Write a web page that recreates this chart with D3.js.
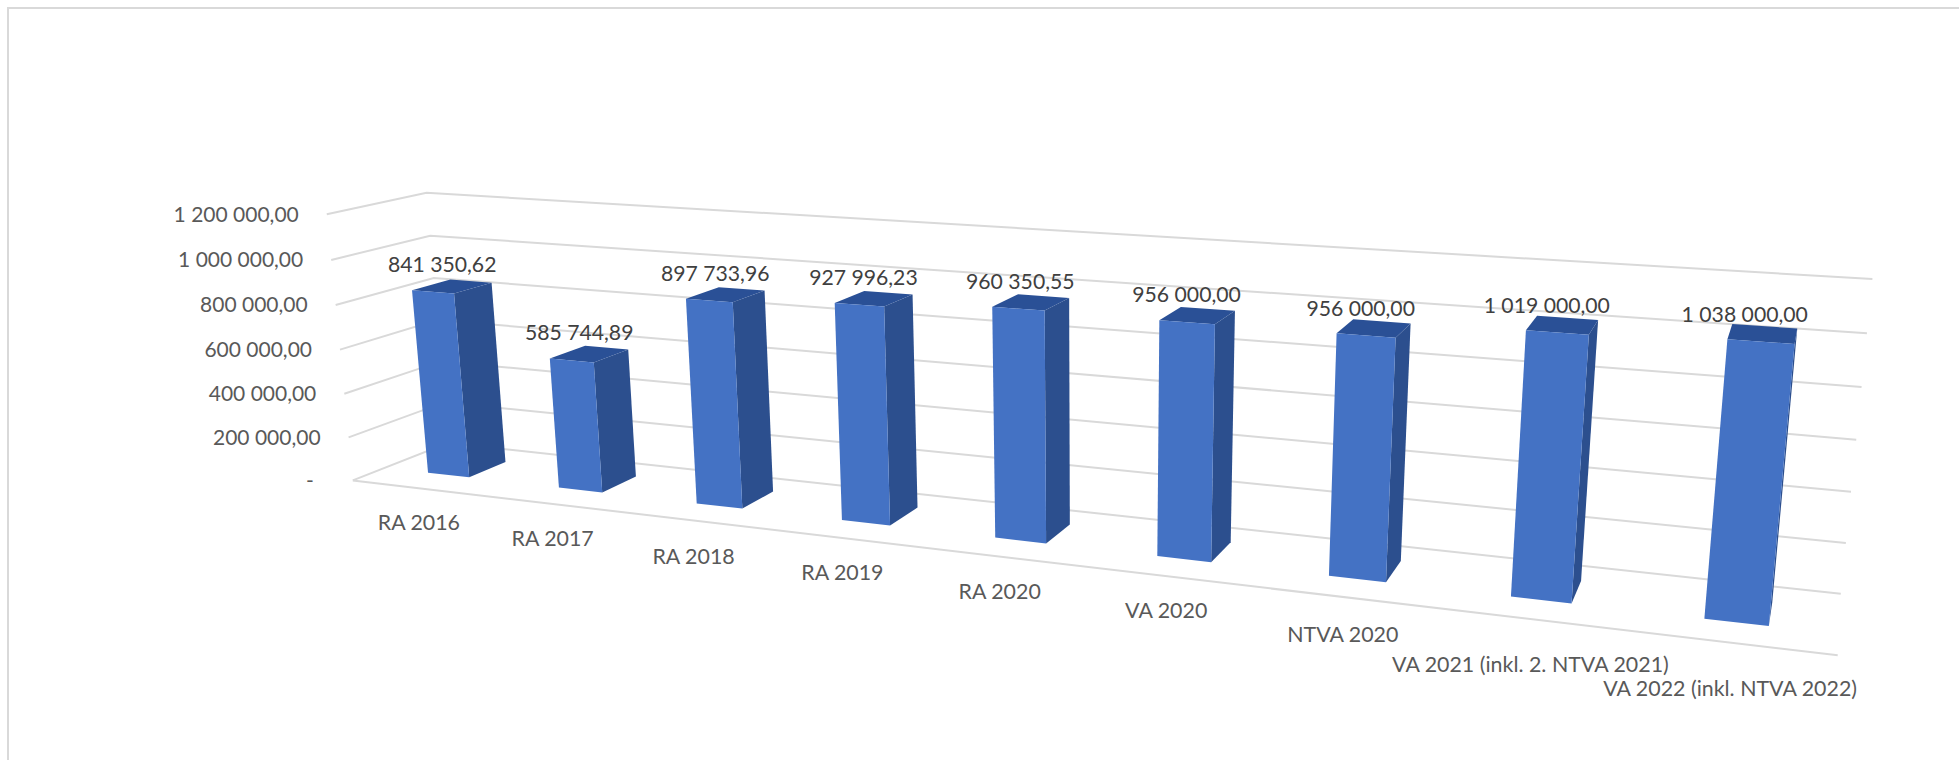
<!DOCTYPE html>
<html><head><meta charset="utf-8"><script src="https://cdn.jsdelivr.net/npm/d3@7"></script>
<style>html,body{margin:0;background:#fff}svg{display:block}text{font-family:Lato,sans-serif}</style></head><body>
<svg id="c" width="1959" height="760"></svg>
<script>
const categories=["RA 2016","RA 2017","RA 2018","RA 2019","RA 2020","VA 2020","NTVA 2020","VA 2021 (inkl. 2. NTVA 2021)","VA 2022 (inkl. NTVA 2022)"];
const values=[841350.62,585744.89,897733.96,927996.23,960350.55,956000,956000,1019000,1038000];
const valueLabels=["841 350,62","585 744,89","897 733,96","927 996,23","960 350,55","956 000,00","956 000,00","1 019 000,00","1 038 000,00"];
const ticks=[0,200000,400000,600000,800000,1000000,1200000];
const tickLabels=["-","200 000,00","400 000,00","600 000,00","800 000,00","1 000 000,00","1 200 000,00"];

// Perspective camera: (x, y, z in 0..1) -> screen
const camera=[[1065.772,-37.15462,124.7362,352.8012],[25.36874,-273.3559,-7.940679,480.4006],[-0.2280882,-0.03400216,0.06649145,1]];
const project=(X,Y,Z)=>{const [a,b,c]=camera,w=c[0]*X+c[1]*Y+c[2]*Z+c[3];
  return [(a[0]*X+a[1]*Y+a[2]*Z+a[3])/w,(b[0]*X+b[1]*Y+b[2]*Z+b[3])/w]};

const n=categories.length;
const xS=d3.scaleLinear().domain([0,n]).range([0,1]);
const yS=d3.scaleLinear().domain([0,1200000]).range([0,1]);
const P=(c,v,z)=>project(xS(c),yS(v),z);
const barWidth=.32,zFront=.325,zBack=.725,zMid=(zFront+zBack)/2;

// Small placement corrections for the text, in pixels
const catLabelNudge=[0,-1,-1,-3.5,-3.5,-6,-4,3.5,2.5];
const valDx=d3.scaleLinear().domain([0,5,8]).range([-10,-11,-18]);
const valDy=d3.scaleLinear().domain([0,8]).range([-22,-19.5]);

const svg=d3.select("#c"),line=d3.line();
const gridColor="#d9d9d9";
svg.append("path").attr("d","M8,760V8H1959").attr("fill","none").attr("stroke",gridColor).attr("stroke-width",2);

svg.append("g").selectAll("path").data(ticks).join("path")
  .attr("d",t=>line([P(0,t,0),P(0,t,1),P(n,t,1)])).attr("fill","none").attr("stroke",gridColor).attr("stroke-width",2);
svg.append("path").attr("d",line([P(0,0,0),P(n,0,0)])).attr("fill","none").attr("stroke",gridColor).attr("stroke-width",2);

const bars=svg.append("g").selectAll("g").data(values).join("g");
const L=i=>i+.5-barWidth/2,R=i=>i+.5+barWidth/2;
bars.append("path").attr("fill","#2c4f8e").attr("d",(v,i)=>line([P(R(i),0,zFront),P(R(i),0,zBack),P(R(i),v,zBack),P(R(i),v,zFront)])+"Z");
bars.append("path").attr("fill","#2a5096").attr("d",(v,i)=>line([P(L(i),v,zFront),P(R(i),v,zFront),P(R(i),v,zBack),P(L(i),v,zBack)])+"Z");
bars.append("path").attr("fill","#4472c4").attr("d",(v,i)=>line([P(L(i),0,zFront),P(R(i),0,zFront),P(R(i),v,zFront),P(L(i),v,zFront)])+"Z");

svg.append("g").selectAll("text").data(ticks).join("text")
  .attr("x",t=>P(0,t,0)[0]-(t===0?39:28)).attr("y",t=>P(0,t,0)[1]).attr("dy",".35em")
  .attr("text-anchor","end").attr("font-size",21).attr("fill","#595959").text((t,i)=>tickLabels[i]);

svg.append("g").selectAll("text").data(categories).join("text")
  .attr("x",(c,i)=>P(i+.5,-156000,-.03)[0]+1.5).attr("y",(c,i)=>P(i+.5,-156000,-.03)[1]+catLabelNudge[i]).attr("dy",".35em")
  .attr("text-anchor","middle").attr("font-size",21.4).attr("fill","#595959").text(c=>c);

svg.append("g").selectAll("text").data(values).join("text")
  .attr("x",(v,i)=>P(i+.5,v,zMid)[0]+valDx(i)).attr("y",(v,i)=>P(i+.5,v,zMid)[1]+valDy(i)).attr("dy",".35em")
  .attr("text-anchor","middle").attr("font-size",21.2).attr("fill","#404040").text((v,i)=>valueLabels[i]);
</script></body></html>
